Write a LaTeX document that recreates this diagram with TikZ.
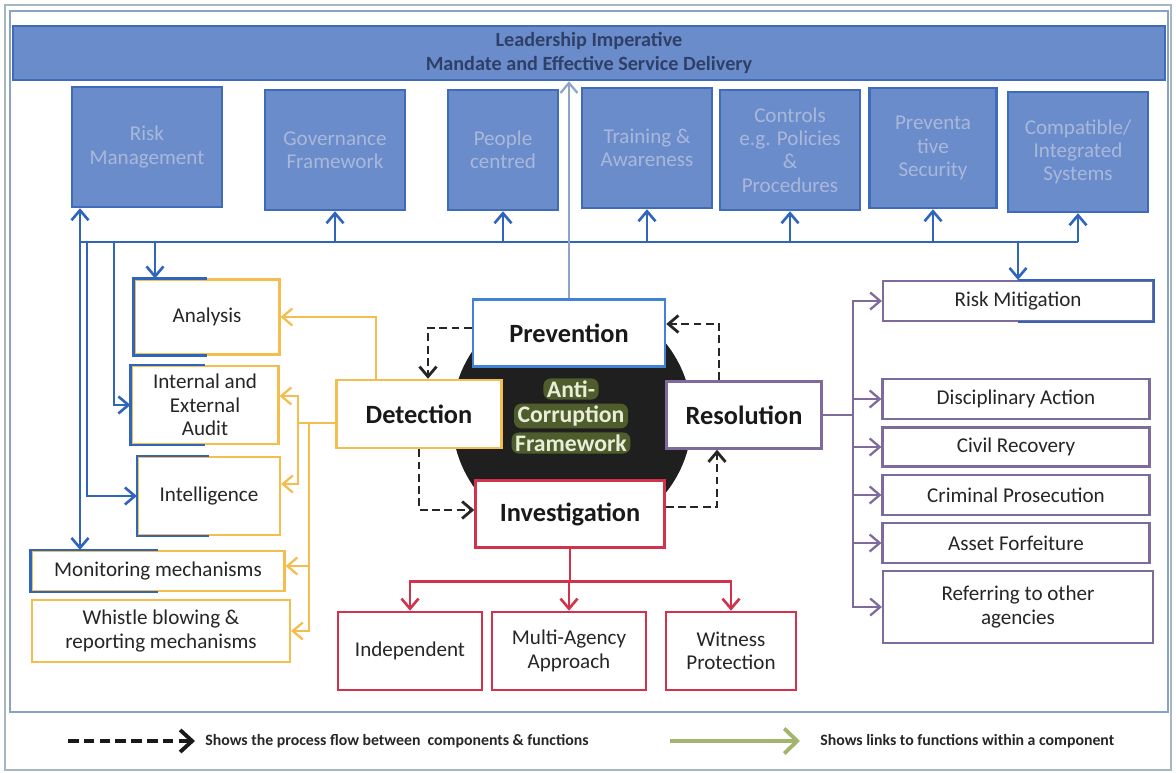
\documentclass[tikz,border=0pt]{standalone}
\usepackage{fontspec}
\setmainfont{Carlito}
\usetikzlibrary{arrows.meta, positioning, calc}

\definecolor{topfill}{HTML}{6B8CCB}
\definecolor{topdraw}{HTML}{3F6CB9}
\definecolor{toptext}{HTML}{A9B8DA}
\definecolor{bantext}{HTML}{2F4068}
\definecolor{busblue}{HTML}{2F66BC}
\definecolor{prvblue}{HTML}{3E83D6}
\definecolor{linkblue}{HTML}{8EA4CB}
\definecolor{detorange}{HTML}{F3BE4F}
\definecolor{respurple}{HTML}{7F6A9C}
\definecolor{invred}{HTML}{D3324C}
\definecolor{legolive}{HTML}{A3B46C}
\definecolor{glowolive}{HTML}{4F5C2C}
\definecolor{coretxt}{HTML}{E8EED8}
\definecolor{framegray}{HTML}{A7B7BF}
\definecolor{frameblue}{HTML}{8AA3C4}

\tikzset{
  sz/.style 2 args={minimum width=#1*0.02cm, minimum height=#2*0.02cm},
  topbox/.style={draw=topdraw, line width=1.4pt, fill=topfill, text=toptext, align=center, inner sep=2pt, font=\fontsize{12}{13.2}\selectfont},
  sidebox/.style={draw, line width=1.2pt, fill=white, align=center, inner sep=2pt, text=black!85, font=\fontsize{12}{13.4}\selectfont},
  corebox/.style={draw, line width=1.4pt, fill=white, text=black!90, font=\fontsize{15}{18}\selectfont\bfseries},
  coreword/.style={fill=glowolive, text=coretxt, rounded corners=4pt, inner xsep=2pt, inner ysep=1.2pt, font=\fontsize{13.5}{15.5}\selectfont\bfseries},
  barbtip/.style={-{Straight Barb[length=2mm,width=3.4mm]}},
  blueln/.style={busblue, line width=1.5pt},
  bluearr/.style={blueln, barbtip},
  orln/.style={detorange, line width=1.3pt},
  orarr/.style={orln, barbtip},
  puln/.style={respurple, line width=1.3pt},
  puarr/.style={puln, barbtip},
  rdln/.style={invred, line width=1.5pt},
  rdarr/.style={rdln, barbtip},
  linkarr/.style={linkblue, line width=1.3pt, barbtip},
  dasharr/.style={black!85, line width=1.6pt, dash pattern=on 4.5pt off 2.5pt, barbtip},
  legtext/.style={text=black!85, inner sep=0pt, font=\fontsize{9}{10}\selectfont\bfseries},
}

\begin{document}
\begin{tikzpicture}[x=0.02cm, y=-0.02cm]
    \useasboundingbox (0,0) rectangle (1176,773);

    % Frames
    \draw[framegray, line width=0.8pt] (5,5) rectangle (1171,770);
    \draw[frameblue, line width=1pt] (10,11) rectangle (1168,712);

    % Leadership banner and top components
    \node[topbox, sz={1152}{54}, text=bantext, font=\fontsize{11.5}{13.6}\selectfont\bfseries] (ban) at (589,53) {Leadership Imperative\\Mandate and Effective Service Delivery};
    \node[topbox, sz={150}{120}] (rmg) at (147,147) {Risk\\Management};
    \node[topbox, sz={140}{120}] (gov) at (335,150) {Governance\\Framework};
    \node[topbox, sz={110}{120}] (ppl) at (503,150) {People\\centred};
    \node[topbox, sz={130}{120}] (trn) at (647,148) {Training \&\\Awareness};
    \node[topbox, sz={140}{120}] (ctl) at (790,150) {Controls\\e.g. Policies\\\&\\Procedures};
    \node[topbox, sz={127}{120}] (sec) at (933,148) {Preventa\\tive\\Security};
    \node[topbox, sz={140}{120}] (cis) at (1078,152) {Compatible/\\Integrated\\Systems};

    % Detection functions
    \node[sidebox, draw=detorange, sz={145}{75}] (ana) at (207,317) {Analysis};
    \node[sidebox, draw=detorange, sz={147}{78}] (aud) at (205,405) {Internal and\\External\\Audit};
    \node[sidebox, draw=detorange, sz={142}{78}] (int) at (209,496) {Intelligence};
    \node[sidebox, draw=detorange, sz={253}{40}] (mon) at (158,571) {Monitoring mechanisms};
    \node[sidebox, draw=detorange, sz={258}{62}] (whs) at (161,631) {Whistle blowing \&\\reporting mechanisms};

    % Resolution functions
    \node[sidebox, draw=respurple, sz={270}{40}] (rmt) at (1018,301) {Risk Mitigation};
    \node[sidebox, draw=respurple, sz={267}{40}] (dis) at (1016,399) {Disciplinary Action};
    \node[sidebox, draw=respurple, sz={267}{39}] (civ) at (1016,447) {Civil Recovery};
    \node[sidebox, draw=respurple, sz={267}{40}] (crm) at (1016,495) {Criminal Prosecution};
    \node[sidebox, draw=respurple, sz={267}{40}] (ast) at (1016,543) {Asset Forfeiture};
    \node[sidebox, draw=respurple, sz={270}{72}] (ref) at (1018,607) {Referring to other\\agencies};

    % Investigation functions
    \node[sidebox, draw=invred, line width=1.5pt, sz={144}{78}] (ind) at (410,651) {Independent};
    \node[sidebox, draw=invred, line width=1.5pt, sz={154}{78}] (mul) at (569,651) {Multi-Agency\\Approach};
    \node[sidebox, draw=invred, line width=1.5pt, sz={130}{78}] (wit) at (731,651) {Witness\\Protection};

    % Core of the framework
    \fill[black!88] (572,418) circle[radius=2.4cm];
    \node[corebox, draw=prvblue, sz={192}{67}] (prv) at (569,333) {Prevention};
    \node[corebox, draw=detorange, sz={165}{68}] (det) at (419,414) {Detection};
    \node[corebox, draw=respurple, sz={155}{67}] (res) at (744,415) {Resolution};
    \node[corebox, draw=invred, sz={189}{67}] (inv) at (570,514) {Investigation};
    \node[coreword] (acf1) at (571,389) {Anti-};
    \node[coreword] (acf2) at (571,416) {Corruption};
    \node[coreword] (acf3) at (571,443) {Framework};

    % Blue edges on shared boxes
    \foreach \n in {ana,aud,int,mon}
        \draw[blueln] (\n.north) -| (\n.south west) -- (\n.south);
    \draw[blueln] (rmt.north) -| (rmt.south east) -- (rmt.south);

    % Prevention bus
    \coordinate (busL) at (80,242);
    \draw[blueln] (busL) -- (cis.south |- busL);
    \draw[bluearr] (busL) -- (busL |- rmg.south);
    \foreach \n in {gov,ppl,trn,ctl,sec,cis}
        \draw[bluearr] (\n.south |- busL) -- (\n.south);
    \draw[bluearr] (rmt.north |- busL) -- (rmt.north);
    \draw[bluearr] (busL) -- (busL |- mon.north);
    \coordinate (feedI) at (87,242);
    \coordinate (feedA) at (114,242);
    \coordinate (feedN) at (155,242);
    \draw[bluearr] (feedI) |- (int.west);
    \draw[bluearr] (feedA) |- (aud.west);
    \draw[bluearr] (feedN) -- (feedN |- ana.north);
    \draw[linkarr] (prv.north) -- (prv.north |- ban.south);

    % Detection links
    \coordinate (detA) at ($(det.north west)+(41,0)$);
    \coordinate (oj) at ($(det.west)+(-37,9)$);
    \coordinate (ok) at ($(det.west)+(-26,9)$);
    \draw[orarr] (detA) |- (ana.east);
    \draw[orln] ($(det.west)+(0,9)$) -- (oj);
    \draw[orarr] (oj) |- ($(aud.east)+(0,-9)$);
    \draw[orarr] (oj) |- ($(int.east)+(0,-12)$);
    \draw[orarr] (ok) |- ($(mon.east)+(0,-5)$);
    \draw[orarr] (ok) |- (whs.east);

    % Resolution links
    \coordinate (pj) at ($(res.east)+(30,0)$);
    \draw[puln] (res.east) -- (pj);
    \foreach \n in {rmt,dis,civ,crm,ast,ref}
        \draw[puarr] (pj) |- (\n.west);

    % Investigation links
    \coordinate (rj) at ($(inv.south)+(0,33)$);
    \draw[rdln] (inv.south) -- (rj);
    \foreach \n in {ind,mul,wit}
        \draw[rdarr] (rj) -| (\n.north);

    % Process flow
    \draw[dasharr] ($(prv.west)+(0,-5)$) -| ($(det.north)+(9,0)$);
    \draw[dasharr] (det.south) |- ($(inv.west)+(0,-4)$);
    \draw[dasharr] ($(inv.east)+(0,-7)$) -| ($(res.south)+(-27,0)$);
    \draw[dasharr] ($(res.north)+(-25,0)$) |- ($(prv.east)+(0,-9)$);

    % Legend
    \coordinate (lgA) at (68,741);
    \coordinate (lgB) at (195,741);
    \coordinate (lgC) at (670,741);
    \coordinate (lgD) at (800,741);
    \draw[black!90, line width=2.2pt, dash pattern=on 6pt off 3pt, -{Straight Barb[length=2.4mm,width=4.4mm]}] (lgA) -- (lgB);
    \node[legtext, right=0.2cm of lgB] (lgt1) {Shows the process flow between\ \ components \& functions};
    \draw[legolive, line width=2.2pt, -{Straight Barb[length=2.6mm,width=5mm]}] (lgC) -- (lgD);
    \node[legtext, right=0.4cm of lgD] (lgt2) {Shows links to functions within a component};
\end{tikzpicture}
\end{document}
